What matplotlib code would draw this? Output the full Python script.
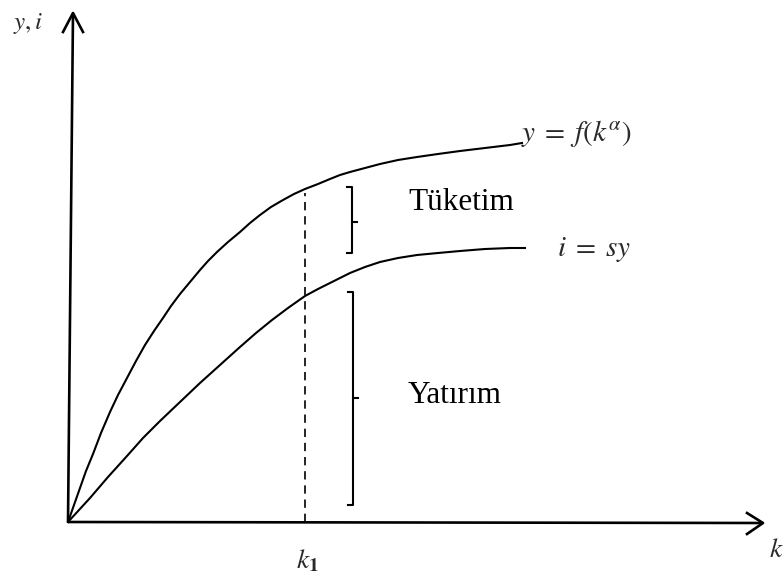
import matplotlib

matplotlib.use("Agg")
import matplotlib.pyplot as plt

plt.rcParams["mathtext.fontset"] = "stix"

# data units: k along the horizontal axis, y/i along the vertical axis
K_OUTPUT = [0, 0.06, 0.12, 0.18, 0.25, 0.33, 0.42, 0.50, 0.59, 0.68, 0.77, 0.86,
            0.95, 1.03, 1.12, 1.22, 1.32, 1.40, 1.49, 1.60, 1.72, 1.82, 1.92, 2.03,
            2.15, 2.26, 2.37, 2.50, 2.62, 2.72, 2.82, 2.97, 3.12, 3.30, 3.49, 3.70,
            3.92, 4.17, 4.42, 4.54]
Y_OUTPUT = [0, 0.17, 0.34, 0.51, 0.68, 0.89, 1.10, 1.27, 1.44, 1.61, 1.77, 1.91,
            2.04, 2.16, 2.28, 2.40, 2.52, 2.61, 2.70, 2.80, 2.90, 2.99, 3.07, 3.15,
            3.22, 3.28, 3.33, 3.38, 3.43, 3.47, 3.50, 3.54, 3.58, 3.62, 3.65, 3.68,
            3.71, 3.74, 3.77, 3.79]

K_INVEST = [0, 0.22, 0.40, 0.59, 0.75, 0.92, 1.12, 1.32, 1.52, 1.72, 1.88, 2.04,
            2.20, 2.37, 2.50, 2.62, 2.72, 2.82, 2.97, 3.12, 3.30, 3.49, 3.70, 3.92,
            4.17, 4.42, 4.57]
Y_INVEST = [0, 0.24, 0.45, 0.66, 0.84, 1.01, 1.20, 1.39, 1.57, 1.75, 1.89, 2.02,
            2.14, 2.26, 2.33, 2.39, 2.44, 2.49, 2.55, 2.60, 2.64, 2.67, 2.69, 2.71,
            2.73, 2.74, 2.74]

K1 = 2.37
X_AXIS_END = 6.95
Y_AXIS_TOP = 5.09

fig = plt.figure(figsize=(7.84, 5.74), dpi=100)
ax = fig.add_axes([0, 0, 1, 1])
ax.set_xlim(-0.68, 7.16)
ax.set_ylim(-0.52, 5.22)
ax.axis("off")

ink = "black"
# axes with open arrow heads
ax.plot([0, X_AXIS_END], [0, -0.01], color=ink, lw=1.9, solid_capstyle="butt")
ax.plot([X_AXIS_END - 0.16, X_AXIS_END, X_AXIS_END - 0.16], [0.09, -0.01, -0.12],
        color=ink, lw=1.9)
ax.plot([0, 0.05], [0, Y_AXIS_TOP], color=ink, lw=1.9, solid_capstyle="butt")
ax.plot([-0.05, 0.05, 0.15], [Y_AXIS_TOP - 0.19, Y_AXIS_TOP, Y_AXIS_TOP - 0.19],
        color=ink, lw=1.9)

# curves
ax.plot(K_OUTPUT, Y_OUTPUT, color=ink, lw=1.5)
ax.plot(K_INVEST, Y_INVEST, color=ink, lw=1.5)

# k1 dashed guide
ax.plot([K1, K1], [0, 3.29], color=ink, lw=1.2, ls=(0, (5, 3.5)))


def brace(x, y_top, y_bot, y_mid):
    ax.plot([x - 0.05, x, x, x - 0.05], [y_top, y_top, y_bot, y_bot],
            color=ink, lw=1.5)
    ax.plot([x, x + 0.05], [y_mid, y_mid], color=ink, lw=1.5)


brace(2.84, 3.35, 2.69, 3.00)
brace(2.85, 2.30, 0.17, 1.24)

serif = "Liberation Serif"
ax.text(3.40, 3.12, "Tüketim", family=serif, fontsize=22.5, va="baseline", ha="left")
ax.text(3.40, 1.19, "Yatırım", family=serif, fontsize=22.5, va="baseline", ha="left")

lab = "#2a2a2a"
ax.text(4.53, 3.89, r"$y\;=\;f(k^{\alpha})$", fontsize=21, color=lab, va="center", ha="left")
ax.text(4.89, 2.73, r"$i\;=\;sy$", fontsize=21, color=lab, va="center", ha="left")
ax.text(-0.55, 4.98, r"$y, i$", fontsize=18, color=lab, va="center", ha="left")
ax.text(2.39, -0.38, r"$k_{\mathbf{1}}$", fontsize=20, color=lab, va="center", ha="center")
ax.text(7.08, -0.27, r"$k$", fontsize=20, color=lab, va="center", ha="center")

fig.savefig("out.png", dpi=100, facecolor="white")
